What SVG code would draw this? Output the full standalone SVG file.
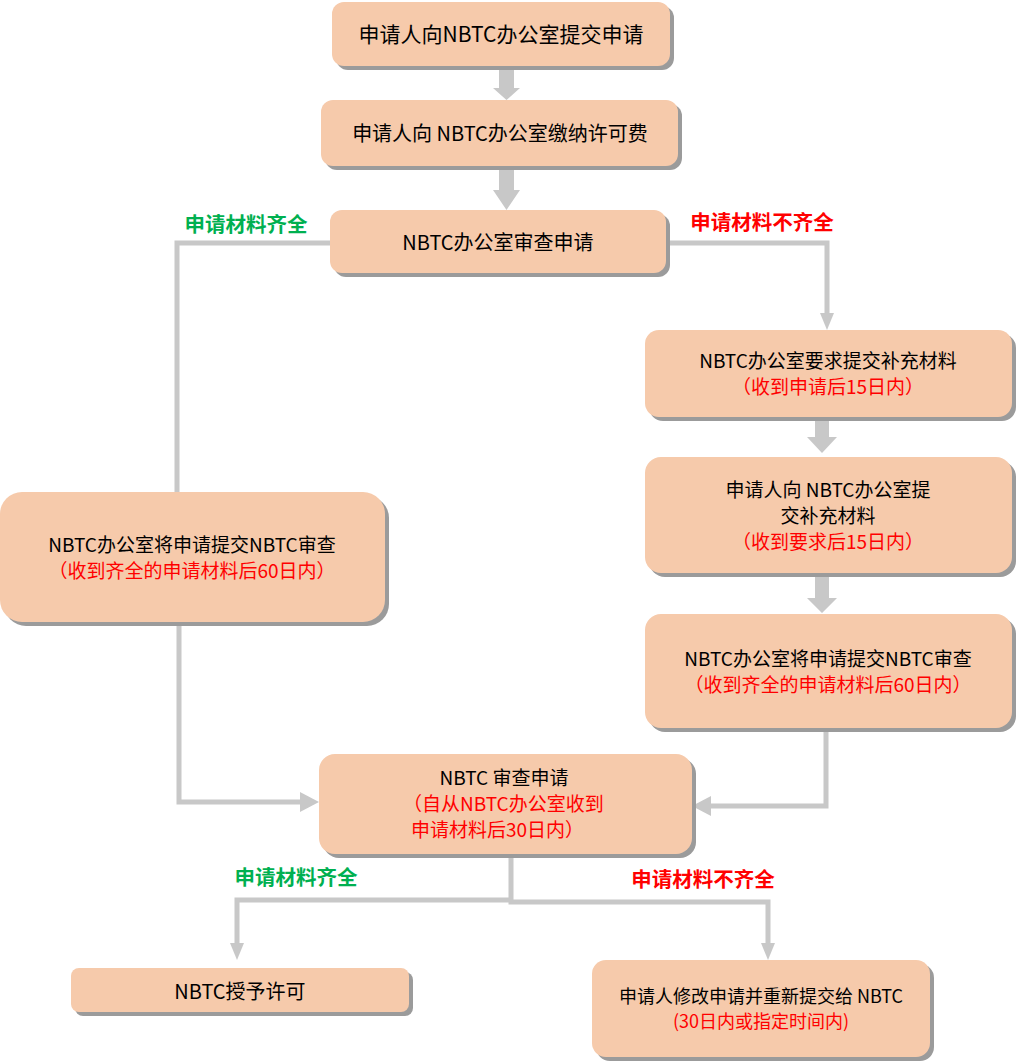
<svg xmlns="http://www.w3.org/2000/svg" width="1016" height="1063" viewBox="0 0 1016 1063">
<style>
.box{fill:#f6caab}
.sh{fill:#9b9b9b}
.t{font-family:"Noto Sans CJK SC","Liberation Sans",sans-serif;font-size:20px;fill:#000;text-anchor:middle}
.m{font-size:19px}
.r{fill:#ff0000}
.lbl{font-family:"Noto Sans CJK SC","Liberation Sans",sans-serif;font-size:20.5px;font-weight:bold;text-anchor:middle}
.g{fill:#00b050}
.line{fill:none;stroke:#c8c8c8;stroke-width:5}
.big{fill:#c8c8c8}
</style>
<rect width="1016" height="1063" fill="#ffffff"/>
<g id="connectors">
  <polygon class="big" points="499,66 514,66 514,88 520,88 506.5,100 493,88 499,88"/>
  <polygon class="big" points="499,166 514,166 514,190 520,190 506.5,210 493,190 499,190"/>
  <polygon class="big" points="815,417 829,417 829,437 837,437 822,453 807,437 815,437"/>
  <polygon class="big" points="815,573 829,573 829,598 837,598 822,613 807,598 815,598"/>
  <polyline class="line" points="330,243 177,243 177,492"/>
  <polyline class="line" points="666,243 827,243 827,314"/>
  <polygon class="big" points="820,313 834,313 827,330"/>
  <polyline class="line" points="179,622 179,802 302,802"/>
  <polygon class="big" points="300,792 319,802 300,812"/>
  <polyline class="line" points="826,728 826,806 710,806"/>
  <polygon class="big" points="711,796 692,806 711,816"/>
  <polyline class="line" points="511,854 511,900 237,900 237,944"/>
  <polygon class="big" points="230,943 244,943 237,960"/>
  <polyline class="line" points="511,900 511,902 768,902 768,944"/>
  <polygon class="big" points="761,943 775,943 768,960"/>
</g>
<text class="lbl g" x="246" y="232">申请材料齐全</text>
<text class="lbl r" x="762" y="230">申请材料不齐全</text>
<text class="lbl g" x="296" y="885">申请材料齐全</text>
<text class="lbl r" x="703" y="887">申请材料不齐全</text>
<g id="n1">
  <rect class="sh" x="336" y="6" width="338" height="64" rx="12"/>
  <rect class="box" x="332" y="2" width="338" height="64" rx="12"/>
  <text class="t" x="501" y="42" style="font-size:21px">申请人向NBTC办公室提交申请</text>
</g>
<g id="n2">
  <rect class="sh" x="325" y="104" width="357" height="66" rx="12"/>
  <rect class="box" x="321" y="100" width="357" height="66" rx="12"/>
  <text class="t" x="500" y="141">申请人向 NBTC办公室缴纳许可费</text>
</g>
<g id="n3">
  <rect class="sh" x="334" y="214" width="336" height="63" rx="12"/>
  <rect class="box" x="330" y="210" width="336" height="63" rx="12"/>
  <text class="t" x="498" y="250">NBTC办公室审查申请</text>
</g>
<g id="n4">
  <rect class="sh" x="649" y="334" width="367" height="87" rx="14"/>
  <rect class="box" x="645" y="330" width="367" height="87" rx="14"/>
  <text class="t m" x="828" y="368">NBTC办公室要求提交补充材料</text>
  <text class="t m r" x="828" y="394">（收到申请后15日内）</text>
</g>
<g id="n5">
  <rect class="sh" x="649" y="461" width="367" height="116" rx="16"/>
  <rect class="box" x="645" y="457" width="367" height="116" rx="16"/>
  <text class="t m" x="828" y="497">申请人向 NBTC办公室提</text>
  <text class="t m" x="828" y="523">交补充材料</text>
  <text class="t m r" x="828" y="549">（收到要求后15日内）</text>
</g>
<g id="n6">
  <rect class="sh" x="649" y="618" width="367" height="114" rx="16"/>
  <rect class="box" x="645" y="614" width="367" height="114" rx="16"/>
  <text class="t m" x="828" y="666">NBTC办公室将申请提交NBTC审查</text>
  <text class="t m r" x="828" y="692">（收到齐全的申请材料后60日内）</text>
</g>
<g id="n7">
  <rect class="sh" x="4" y="496" width="385" height="130" rx="22"/>
  <rect class="box" x="0" y="492" width="385" height="130" rx="22"/>
  <text class="t m" x="192" y="552">NBTC办公室将申请提交NBTC审查</text>
  <text class="t m r" x="192" y="578">（收到齐全的申请材料后60日内）</text>
</g>
<g id="n8">
  <rect class="sh" x="323" y="758" width="373" height="100" rx="16"/>
  <rect class="box" x="319" y="754" width="373" height="100" rx="16"/>
  <text class="t m" x="504" y="785">NBTC 审查申请</text>
  <text class="t m r" x="403" y="811" style="text-anchor:start">（自从NBTC办公室收到</text>
  <text class="t m r" x="411" y="837" style="text-anchor:start">申请材料后30日内）</text>
</g>
<g id="n9">
  <rect class="sh" x="75" y="972" width="338" height="44" rx="8"/>
  <rect class="box" x="71" y="968" width="338" height="44" rx="8"/>
  <text class="t" x="240" y="999">NBTC授予许可</text>
</g>
<g id="n10">
  <rect class="sh" x="596" y="964" width="338" height="97" rx="14"/>
  <rect class="box" x="592" y="960" width="338" height="97" rx="14"/>
  <text class="t" x="761" y="1003" style="font-size:18px">申请人修改申请并重新提交给 NBTC</text>
  <text class="t r" x="761" y="1028" style="font-size:18px">(30日内或指定时间内)</text>
</g>
</svg>
